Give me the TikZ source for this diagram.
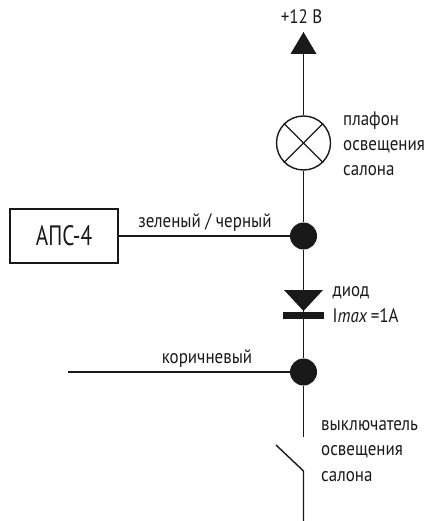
\documentclass[tikz,border=0pt]{standalone}
\usepackage{fontspec}
\setmainfont[FakeStretch=0.87]{PT Sans}
\newfontfamily\boxfont[FakeStretch=0.76]{PT Sans}
\tikzset{
  wire/.style={line width=1.9pt, draw=black!90},
  thinwire/.style={line width=1.4pt, draw=black!90},
  junction/.style={circle, fill=black!90, inner sep=0pt, minimum size=27pt},
  label/.style={font=\fontsize{19.5}{25.3}\selectfont, text=black!90, inner sep=0pt},
  sidetext/.style={label, anchor=north west, align=left}
}
\begin{document}
\begin{tikzpicture}[x=1pt,y=-1pt]
    \useasboundingbox (0,0) rectangle (424,521);

    \node[label] (supply) at (301.5,17) {+12 В};
    \coordinate (tip) at (303.5,32);
    \coordinate (tipL) at (290.5,54);
    \coordinate (tipR) at (316.5,54);
    \node[circle, draw=black!90, line width=1.4pt, inner sep=0pt, minimum size=54pt] (lamp) at (303.5,143) {};
    \node[sidetext] (lamptext) at (343,111.5) {плафон\\освещения\\салона};

    \node[junction] (top) at (303.5,236) {};
    \node[draw=black!90, line width=1.4pt, minimum width=108pt, minimum height=54pt, inner sep=0pt,
          font=\boxfont\fontsize{28}{30}\selectfont, text=black!90] (aps) at (64,236) {АПС-4};
    \node[label] (green) at (205,223) {зеленый / черный};

    \coordinate (diodeL) at (284,290);
    \coordinate (diodeR) at (323,290);
    \coordinate (diodeA) at (303.5,311);
    \coordinate (barL) at (283,315.5);
    \coordinate (barR) at (324,315.5);
    \node[label, anchor=west] (diodetext) at (332.5,293) {диод};
    \node[label, anchor=west] (imax) at (332.5,316) {I\textit{max}\,=1A};

    \node[junction] (bottom) at (303.5,372) {};
    \coordinate (brownend) at (68,372);
    \node[label] (brown) at (207,359) {коричневый};

    \coordinate (swtop) at (303.5,437);
    \coordinate (swblade) at (276,445);
    \coordinate (swpivot) at (303.5,471);
    \coordinate (swend) at (303.5,521);
    \node[sidetext] (swtext) at (321,420.5) {выключатель\\освещения\\салона};

    % supply arrow
    \fill[black!90] (tip) -- (tipR) -- (tipL) -- cycle;
    \draw[wire] (tip) -- (lamp);
    \draw[thinwire] (lamp.45) -- (lamp.225);
    \draw[thinwire] (lamp.135) -- (lamp.315);

    % main line
    \draw[wire] (lamp) -- (top);
    \draw[wire] (top) -- (diodeA);
    \draw[wire] (diodeA) -- (bottom);
    \draw[wire] (bottom) -- (swtop);
    \draw[thinwire] (aps) -- (top);
    \draw[thinwire] (brownend) -- (bottom);

    % diode
    \fill[black!90] (diodeL) -- (diodeR) -- (diodeA) -- cycle;
    \draw[black!90, line width=6.5pt] (barL) -- (barR);

    % switch
    \draw[thinwire] (swblade) -- (swpivot) -- (swend);
\end{tikzpicture}
\end{document}
